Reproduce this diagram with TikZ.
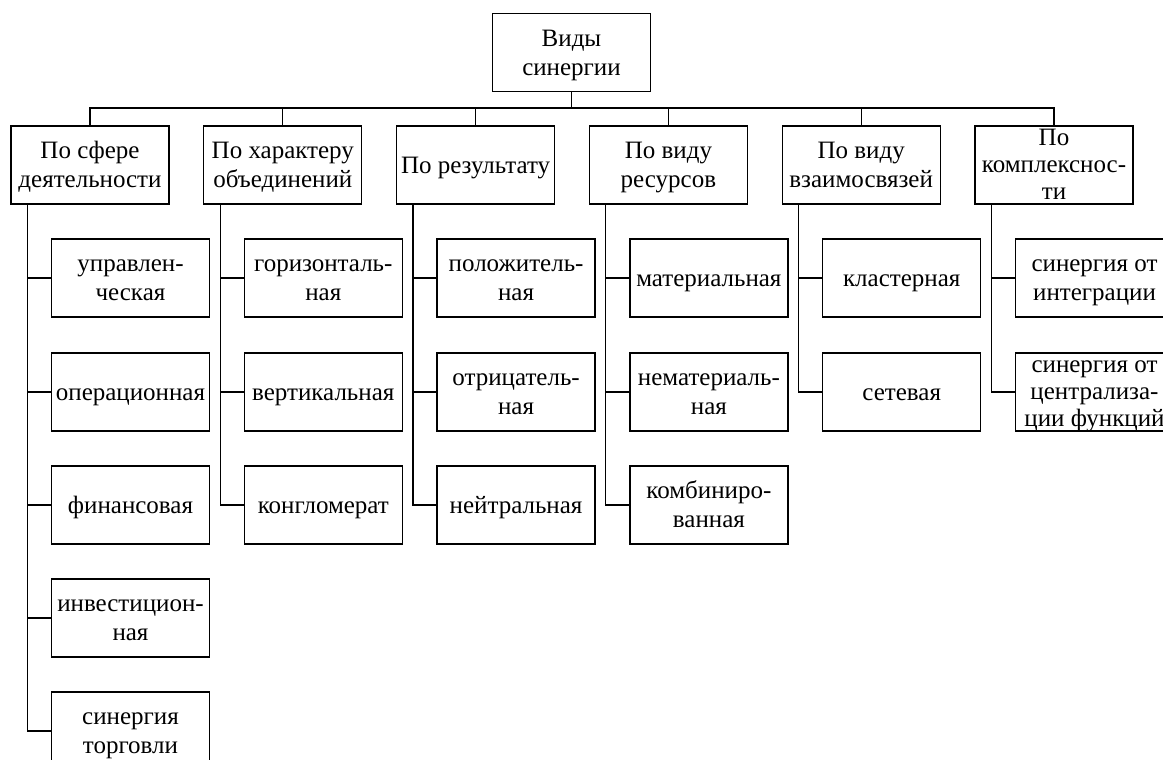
\documentclass[tikz,border=0pt]{standalone}
\usepackage{fontspec}
\setmainfont{Liberation Serif}
\usetikzlibrary{calc}
% centred lines with even struts, so every box text sits alike
\newcommand\boxlines[1]{\begin{tabular}{@{}c@{}}#1\end{tabular}}
\tikzset{
  boxtext/.style={inner sep=0pt, yshift=-2.5pt, font=\fontsize{25}{29}\selectfont},
  tighttext/.style={boxtext, font=\fontsize{25}{27}\selectfont},
  frame/.style={draw, line width=1.3pt, minimum width=158pt, minimum height=78pt, inner sep=0pt},
  box/.style={frame, label={[boxtext]center:{\boxlines{#1}}}},
  tallbox/.style={frame, label={[tighttext]center:{\boxlines{#1}}}},
  link/.style={line width=1.3pt}
}
\begin{document}
\begin{tikzpicture}[x=1pt,y=-1pt]
\useasboundingbox (0,0) rectangle (1163,760);
\clip (0,0) rectangle (1163,760);

% root
\node[box={Виды\\синергии}] (root) at (571.5,52.5) {};

% first level
\node[box={По сфере\\деятельности}]      (g1) at (90,165)    {};
\node[box={По характеру\\объединений}]    (g2) at (282.8,165) {};
\node[box={По результату}]               (g3) at (475.6,165) {};
\node[box={По виду\\ресурсов}]           (g4) at (668.4,165) {};
\node[box={По виду\\взаимосвязей}]       (g5) at (861.2,165) {};
\node[tallbox={По\\комплекснос-\\ти}]    (g6) at (1054,165)  {};

% group 1
\node[box={управлен-\\ческая}]    (a1) at (130.5,278) {};
\node[box={операционная}]         (a2) at (130.5,392) {};
\node[box={финансовая}]           (a3) at (130.5,505) {};
\node[box={инвестицион-\\ная}]    (a4) at (130.5,618) {};
\node[box={синергия\\торговли}]   (a5) at (130.5,731) {};

% group 2
\node[box={горизонталь-\\ная}]    (b1) at (323.3,278) {};
\node[box={вертикальная}]         (b2) at (323.3,392) {};
\node[box={конгломерат}]          (b3) at (323.3,505) {};

% group 3
\node[box={положитель-\\ная}]     (c1) at (516.1,278) {};
\node[box={отрицатель-\\ная}]     (c2) at (516.1,392) {};
\node[box={нейтральная}]          (c3) at (516.1,505) {};

% group 4
\node[box={материальная}]         (d1) at (708.9,278) {};
\node[box={нематериаль-\\ная}]    (d2) at (708.9,392) {};
\node[box={комбиниро-\\ванная}]   (d3) at (708.9,505) {};

% group 5
\node[box={кластерная}]           (e1) at (901.7,278) {};
\node[box={сетевая}]              (e2) at (901.7,392) {};

% group 6
\node[box={синергия от\\интеграции}]                   (f1) at (1094.5,278) {};
\node[tallbox={синергия от\\централиза-\\ции функций}] (f2) at (1094.5,392) {};

% bus from the root to the first level
\coordinate (bus) at ($(root.south)+(0,16)$);
\foreach \g in {g1,g2,g3,g4,g5,g6}
  \draw[link] (root.south) -- (bus) -| (\g.north);

% trunks from each group down to its items
\foreach \g/\list in {g1/{a1,a2,a3,a4,a5}, g2/{b1,b2,b3}, g3/{c1,c2,c3},
                      g4/{d1,d2,d3}, g5/{e1,e2}, g6/{f1,f2}}
  \foreach \c in \list
    \draw[link] ([xshift=17pt]\g.south west) |- (\c.west);
\end{tikzpicture}
\end{document}
